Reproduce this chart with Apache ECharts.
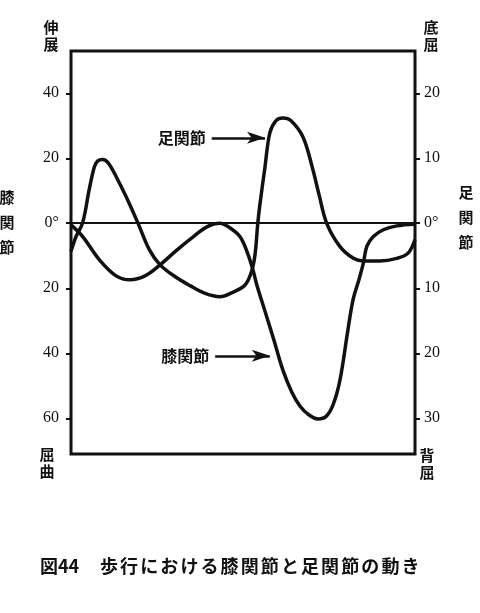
<!DOCTYPE html>
<html>
<head>
<meta charset="utf-8">
<script src="https://cdn.jsdelivr.net/npm/echarts@6/dist/echarts.min.js"></script>
<style>
html,body{margin:0;padding:0;background:#fff;}
#chart{width:480px;height:613px;}
</style>
</head>
<body>
<div id="chart"></div>
<script>
// Gait cycle position (%) and knee angle (deg, + = extension, - = flexion)
const kneeX = [0,3.4,8.2,13.1,17.2,21.5,25.9,30.5,35.5,39.5,43.3,45.6,49.1,51.5,53.0,54.0,56.4,59.0,61.6,64.2,66.6,69.2,71.8,74.1,76.2,78.2,80.5,82.0,83.7,85.0,86.0,87.9,90.8,94.7,100];
const kneeDeg = [-0.5,-4.1,-11.2,-16.2,-17.4,-16.2,-12.8,-8.5,-4.2,-1.1,0,-1.0,-4.1,-9.7,-14.8,-18.9,-27.1,-36.0,-45.2,-52.0,-56.3,-59.0,-60.2,-59.5,-55.8,-48.2,-32.8,-23.5,-17.4,-12.2,-7.1,-4.1,-2.0,-0.8,-0.2];
// Gait cycle position (%) and ankle angle (deg, + = plantarflexion, - = dorsiflexion)
const ankleX = [0,1.5,3.4,5.3,6.8,7.8,9.2,10.8,13.1,16.0,19.4,22.8,25.9,30.2,34.6,39.0,43.3,46.7,50.6,52.5,53.5,54.3,54.9,56.4,57.8,59.6,61.6,63.9,67.4,70.1,72.1,74.4,78.2,82.1,85.0,89.8,94.7,98.0,100];
const ankleDeg = [-4.3,-2.0,0.1,5.2,8.7,9.6,9.8,9.3,7.2,4.1,0.1,-4.1,-6.4,-8.2,-9.6,-10.8,-11.3,-10.7,-9.5,-7.4,-4.8,0,2.8,8.7,13.9,15.8,16.2,15.8,13.3,8.7,4.4,-0.1,-3.6,-5.4,-5.8,-5.8,-5.4,-4.6,-2.5];
// Tick labels
const kneeTicks = [-60,-40,-20,0,20,40];
const ankleTicks = [-30,-20,-10,0,10,20];
// Texts
const kneeName = '膝関節';
const ankleName = '足関節';
const titleHead = '図44';
const titleBody = '歩行における膝関節と足関節の動き';
// Annotation arrows (ankle-axis data coordinates): [x start, x end, y]
const ankleArrow = [40.9, 56.4, 13.15];
const kneeArrow = [41.9, 57.8, -20.4];

const ink = '#111';
const serif = '"Liberation Serif", "DejaVu Serif", serif';
const cjk = '"Noto Sans CJK JP", "Noto Sans CJK SC", sans-serif';
const fmt = v => v === 0 ? '0°' : String(Math.abs(v));

const chart = echarts.init(document.getElementById('chart'), null, {renderer: 'canvas'});

const sideText = (text, x, y, lh) => ({
  type: 'text', x: x, y: y,
  style: {text: text, font: 'bold 15px ' + cjk, fill: ink, textAlign: 'center', textVerticalAlign: 'top', lineHeight: lh}
});

const graphics = [
  sideText('伸\n展', 51, 19, 17),
  sideText('底\n屈', 431, 19, 17),
  sideText('屈\n曲', 47, 446, 17),
  sideText('背\n屈', 427, 447, 17),
  sideText(kneeName.split('').join('\n'), 7, 185, 25),
  sideText(ankleName.split('').join('\n'), 466, 180, 25),
  {type: 'text', x: 40, y: 566, style: {text: titleHead, font: 'bold 18px ' + cjk, fill: ink, textVerticalAlign: 'middle'}}
];
titleBody.split('').forEach((c, i) => {
  graphics.push({type: 'text', x: 100 + i * 20.1, y: 566,
    style: {text: c, font: 'bold 18px ' + cjk, fill: ink, textVerticalAlign: 'middle'}});
});

const arrowItem = (a, name) => [
  {coord: [a[0], a[2]],
   label: {show: true, position: 'start', distance: 6, formatter: name,
           fontFamily: cjk, fontWeight: 'bold', fontSize: 16, color: ink}},
  {coord: [a[1], a[2]]}
];

chart.setOption({
  animation: false,
  backgroundColor: '#fff',
  grid: {left: 71, right: 65, top: 51, bottom: 159, show: true, borderColor: ink, borderWidth: 3, containLabel: false},
  xAxis: {type: 'value', min: 0, max: 100, axisLine: {show: false}, axisTick: {show: false}, axisLabel: {show: false}, splitLine: {show: false}},
  yAxis: [
    {type: 'value', position: 'left', min: -71, max: 53,
     axisLine: {show: false}, splitLine: {show: false},
     axisTick: {show: true, customValues: kneeTicks, length: 5, lineStyle: {color: ink, width: 2}},
     axisLabel: {customValues: kneeTicks, formatter: fmt, margin: 12, color: ink, fontFamily: serif, fontSize: 16}},
    {type: 'value', position: 'right', min: -35.5, max: 26.5,
     axisLine: {show: false}, splitLine: {show: false},
     axisTick: {show: true, customValues: ankleTicks, length: 5, lineStyle: {color: ink, width: 2}},
     axisLabel: {customValues: ankleTicks, formatter: fmt, margin: 9, color: ink, fontFamily: serif, fontSize: 16}}
  ],
  graphic: graphics,
  series: [
    {name: kneeName, type: 'line', yAxisIndex: 0, smooth: 0.35, symbol: 'none',
     lineStyle: {color: ink, width: 3.5},
     data: kneeX.map((x, i) => [x, kneeDeg[i]]),
     markLine: {silent: true, animation: false, symbol: ['none', 'none'],
       lineStyle: {color: ink, width: 2, type: 'solid'},
       label: {show: false},
       emphasis: {disabled: true},
       data: [{yAxis: 0}]}},
    {name: ankleName, type: 'line', yAxisIndex: 1, smooth: 0.35, symbol: 'none',
     lineStyle: {color: ink, width: 3.5},
     data: ankleX.map((x, i) => [x, ankleDeg[i]]),
     markLine: {silent: true, animation: false, symbol: ['none', 'arrow'], symbolSize: [9, 18],
       lineStyle: {color: ink, width: 2.5, type: 'solid'},
       label: {show: false},
       emphasis: {disabled: true},
       data: [arrowItem(ankleArrow, ankleName), arrowItem(kneeArrow, kneeName)]}}
  ]
});
</script>
</body>
</html>
